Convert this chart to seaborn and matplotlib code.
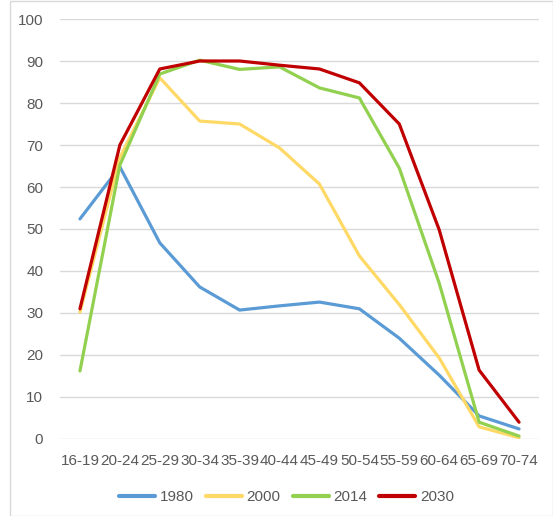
import matplotlib
matplotlib.use("Agg")
import matplotlib.pyplot as plt
import seaborn as sns
import pandas as pd

age_groups = ["16-19", "20-24", "25-29", "30-34", "35-39", "40-44",
              "45-49", "50-54", "55-59", "60-64", "65-69", "70-74"]
rate_1980 = [52.4, 64.8, 46.7, 36.2, 30.7, 31.7, 32.6, 31.0, 24.0, 15.2, 5.5, 2.4]
rate_2000 = [30.2, 67.0, 86.0, 75.7, 75.0, 69.3, 60.7, 43.6, 32.0, 19.3, 2.9, 0.3]
rate_2014 = [16.2, 65.2, 86.9, 90.2, 88.0, 88.6, 83.6, 81.2, 64.5, 37.1, 4.0, 0.7]
rate_2030 = [31.0, 70.0, 88.1, 90.0, 90.0, 89.0, 88.1, 84.8, 75.0, 49.8, 16.4, 4.0]
years = ["1980", "2000", "2014", "2030"]
colors = ["#5B9BD5", "#FFD966", "#92D050", "#C00000"]

series = [rate_1980, rate_2000, rate_2014, rate_2030]
df = pd.concat(
    [pd.DataFrame({"age": age_groups, "rate": vals, "year": yr})
     for yr, vals in zip(years, series)],
    ignore_index=True,
)

sns.set_style("white")
plt.rcParams["font.family"] = ["Liberation Sans", "DejaVu Sans"]

fig = plt.figure(figsize=(5.53, 5.16), dpi=100)
ax = fig.add_axes([60 / 553, 77 / 516, 479 / 553, 420 / 516])

sns.lineplot(data=df, x="age", y="rate", hue="year", hue_order=years,
             palette=colors, linewidth=2.3, sort=False, ax=ax)

ax.set_xlim(-0.5, len(age_groups) - 0.5)
ax.set_ylim(0, 100)
ax.set_yticks(range(0, 101, 10))
ax.yaxis.grid(True, color="#D9D9D9", linewidth=1.0)
ax.set_axisbelow(True)
for s in ax.spines.values():
    s.set_visible(False)
ax.tick_params(axis="both", length=0, labelsize=11, labelcolor="#595959")
ax.tick_params(axis="y", pad=12)
ax.tick_params(axis="x", pad=11)
ax.set_xlabel("")
ax.set_ylabel("")

leg = ax.legend(loc="center", bbox_to_anchor=(0.5 - 13 / 479, -58 / 420),
                ncol=4, frameon=False, fontsize=11, handlelength=2.35,
                columnspacing=0.8, handletextpad=0.3)
for t in leg.get_texts():
    t.set_color("#595959")
for h in leg.get_lines():
    h.set_linewidth(3.0)

# light outer frame of the chart area
fig.patches.append(plt.Rectangle((10 / 553, 0), 543 / 553 - 0.5 / 553, 1 - 1 / 516,
                                 transform=fig.transFigure, fill=False,
                                 edgecolor="#D9D9D9", linewidth=1.0))

fig.savefig("out.png", dpi=100)
